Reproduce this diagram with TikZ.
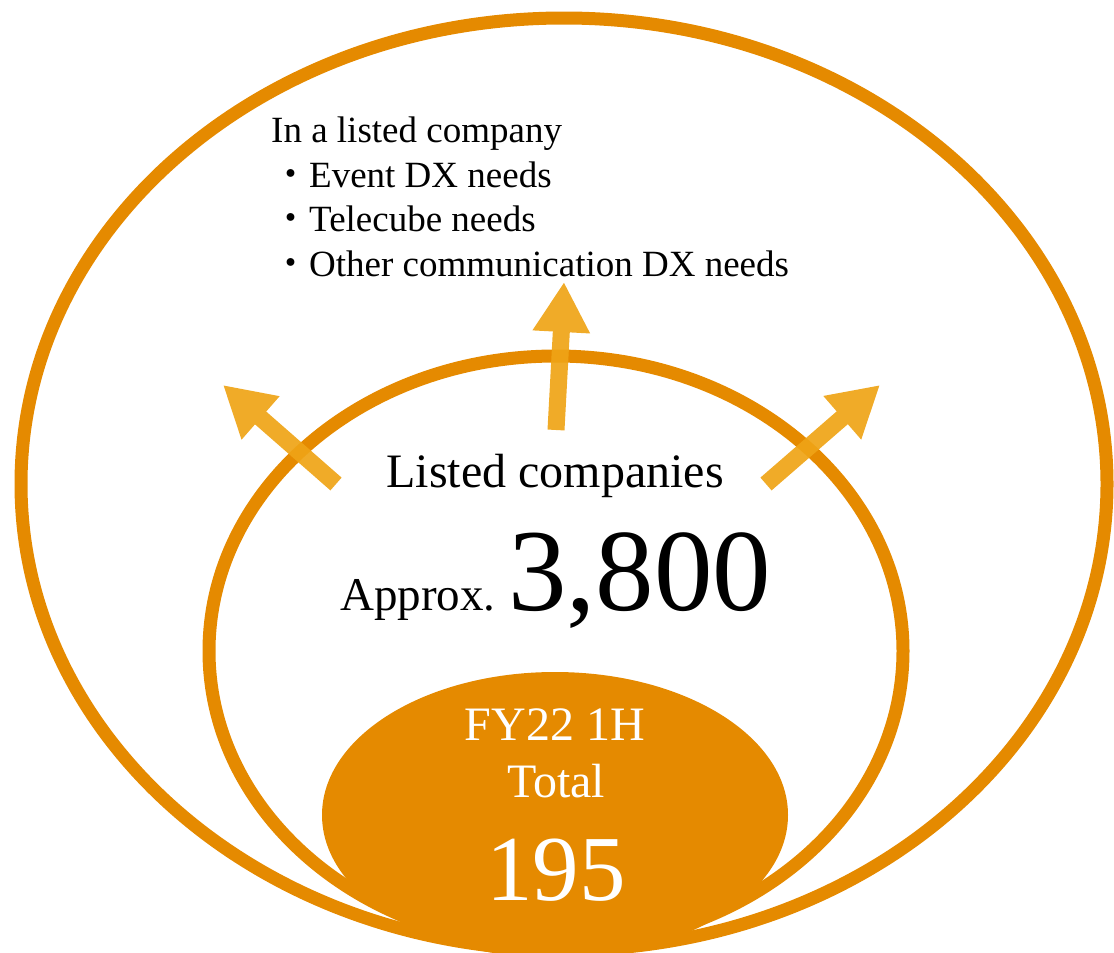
\documentclass[tikz,border=0pt]{standalone}
\usepackage{fontspec}
\setmainfont{Liberation Serif}
\newfontfamily\cjk{Noto Sans CJK JP}
\usetikzlibrary{shapes.geometric,arrows.meta}
\definecolor{ring}{RGB}{229,138,0}
\definecolor{arrowc}{RGB}{239,164,22}
\tikzset{
  ringshape/.style={ellipse, draw=ring, line width=13pt, inner sep=0pt},
  coreshape/.style={ellipse, fill=ring, inner sep=0pt},
  growarrow/.style={draw=arrowc, line width=17pt,
    -{Triangle[length=50pt 0,width=54pt 0]}},
  txt/.style={inner sep=0pt, anchor=base west, text=black},
  listfont/.style={font=\fontsize{37}{37}\selectfont},
  corelabel/.style={inner sep=0pt, anchor=base, text=white},
}
\begin{document}
\begin{tikzpicture}[x=1pt,y=-1pt]
\useasboundingbox (0,0) rectangle (1114,953);
% market rings
\node[ringshape, minimum width=1086pt, minimum height=932pt] (outer) at (564,484) {};
\node[ringshape, minimum width=694pt, minimum height=590pt] (middle) at (556,651) {};
% expansion arrows
\coordinate (ltail) at (336,484);
\coordinate (ltip) at (223,385);
\coordinate (mtail) at (556,430);
\coordinate (mtip) at (564,282);
\coordinate (rtail) at (766,484);
\coordinate (rtip) at (880,385);
\begin{scope}[transparency group, opacity=0.92]
\draw[growarrow] (ltail) -- (ltip);
\draw[growarrow] (mtail) -- (mtip);
\draw[growarrow] (rtail) -- (rtip);
\end{scope}
% current customers
\node[coreshape, minimum width=466pt, minimum height=286pt] (core) at (555,815) {};
% needs list
\node[txt, listfont] (head) at (271,142) {In a listed company};
\node[txt, listfont] (n1) at (272,187) {{\cjk ・}Event DX needs};
\node[txt, listfont] (n2) at (272,231) {{\cjk ・}Telecube needs};
\node[txt, listfont] (n3) at (272,276) {{\cjk ・}Other communication DX needs};
% listed companies
\node[inner sep=0pt, anchor=base, font=\fontsize{48}{48}\selectfont] (listed) at (555,487) {Listed companies};
\node[txt, font=\fontsize{47}{47}\selectfont] (approx) at (340,610) {Approx.};
\node[txt, font=\fontsize{117}{117}\selectfont] (num) at (508,610) {3,800};
% core labels
\node[corelabel, font=\fontsize{48}{48}\selectfont] (fy) at (555,740) {FY22 1H};
\node[corelabel, font=\fontsize{48}{48}\selectfont] (tot) at (556,797) {Total};
\node[corelabel, font=\fontsize{93}{93}\selectfont] (cnt) at (556,900) {195};
\end{tikzpicture}
\end{document}
